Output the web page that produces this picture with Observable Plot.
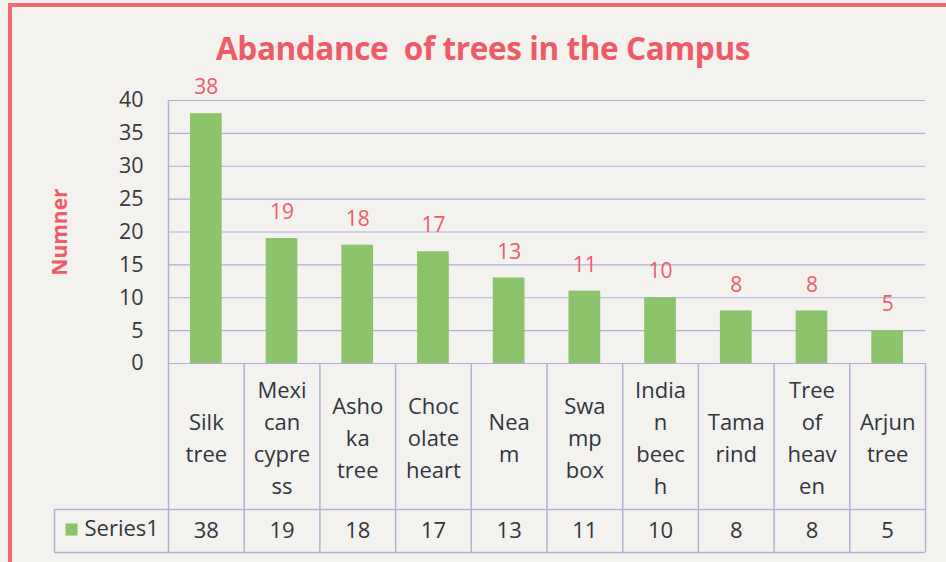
<!DOCTYPE html>
<html>
<head>
<meta charset="utf-8">
<script src="https://cdn.jsdelivr.net/npm/d3@7"></script>
<script src="https://cdn.jsdelivr.net/npm/@observablehq/plot@0.6"></script>
<style>
  html, body { margin: 0; padding: 0; background: #f3f2ef; }
  #wrap { position: relative; width: 946px; height: 562px; overflow: hidden; background: #f3f2ef; font-family: "Open Sans", sans-serif; }
  #frame { position: absolute; left: 8px; top: 3px; width: 1000px; height: 700px; border-left: 4px solid #f06a74; border-top: 4px solid #f06a74; pointer-events: none; }
  #title { height: 82px; box-sizing: border-box; padding-top: 30px; padding-left: 20px; text-align: center; font-size: 31.5px; line-height: 36px; font-weight: 700; color: #ef5a68; white-space: pre; letter-spacing: -0.4px; }
  svg { display: block; }
</style>
</head>
<body>
<div id="wrap">
  <div id="title">Abandance  of trees in the Campus</div>
  <div id="chart"></div>
  <div id="frame"></div>
</div>
<script>
const categories = ["Silk tree", "Mexican cypress", "Ashoka tree", "Chocolate heart", "Neam", "Swamp box", "Indian beech", "Tamarind", "Tree of heaven", "Arjun tree"];
const categoryLabels = ["Silk\ntree", "Mexi\ncan\ncypre\nss", "Asho\nka\ntree", "Choc\nolate\nheart", "Nea\nm", "Swa\nmp\nbox", "India\nn\nbeec\nh", "Tama\nrind", "Tree\nof\nheav\nen", "Arjun\ntree"];
const values = [38, 19, 18, 17, 13, 11, 10, 8, 8, 5];
const yTicks = [0, 5, 10, 15, 20, 25, 30, 35, 40];
const seriesName = "Series1";
const yLabel = "Numner";

const data = categories.map((c, i) => ({i, name: c, label: categoryLabels[i], value: values[i]}));
const boundaries = d3.range(categories.length + 1);

const green = "#8cc46c";
const red = "#ef5a68";
const grid = "#aeacd8";
const tableLine = "#b3b0d6";
const ink = "#30363c";

const plot = Plot.plot({
  width: 946,
  height: 480,
  marginTop: 18,
  marginBottom: 199,
  marginLeft: 168,
  marginRight: 21,
  style: {fontFamily: "Open Sans, sans-serif", background: "transparent", overflow: "visible"},
  x: {domain: [0, categories.length], axis: null},
  y: {domain: [0, 40], axis: null},
  marks: [
    // gridlines
    Plot.ruleY(yTicks, {y: d => d, stroke: grid, strokeWidth: 1.2}),
    // left axis line
    Plot.ruleX([0], {x: d => d, stroke: tableLine, strokeWidth: 1.5}),
    // bars
    Plot.rectY(data, {x1: d => d.i, x2: d => d.i + 1, y: "value", insetLeft: 22, insetRight: 22, fill: green}),
    // value labels
    Plot.text(data, {x: d => d.i + 0.5, y: "value", text: d => String(d.value), dy: -26, fill: red, fontSize: 21}),
    // y axis
    Plot.axisY({ticks: yTicks, tickSize: 0, tickPadding: 25, fontSize: 21.5, fill: "#383838", label: null}),
    // y label
    Plot.text([yLabel], {frameAnchor: "left", dx: -108, rotate: -90, textAnchor: "middle", lineAnchor: "middle", fill: red, fontSize: 21, fontWeight: "bold"}),
    // table: vertical lines
    Plot.ruleX(boundaries, {x: d => d, insetTop: 263, insetBottom: -189, stroke: tableLine, strokeWidth: 1.5}),
    Plot.ruleX([0], {x: d => d, dx: -114, insetTop: 409, insetBottom: -189, stroke: tableLine, strokeWidth: 1.5}),
    // table: horizontal lines
    Plot.ruleY([0], {y: d => d, dy: 146, insetLeft: -114, stroke: tableLine, strokeWidth: 1.5}),
    Plot.ruleY([0], {y: d => d, dy: 189, insetLeft: -114, stroke: tableLine, strokeWidth: 1.5}),
    // table: category labels
    Plot.text(data, {x: d => d.i + 0.5, text: "label", frameAnchor: "bottom", lineAnchor: "middle", dy: 72, fontSize: 22, lineHeight: 1.46, fill: ink}),
    // table: values row
    Plot.text(data, {x: d => d.i + 0.5, text: d => String(d.value), frameAnchor: "bottom", lineAnchor: "middle", dy: 167, fontSize: 22, fill: ink}),
    // legend key
    Plot.dot([seriesName], {frameAnchor: "bottom-left", dx: -97, dy: 166, symbol: "square", r: 6.8, fill: green, stroke: null}),
    Plot.text([seriesName], {frameAnchor: "bottom-left", dx: -84, dy: 165, textAnchor: "start", lineAnchor: "middle", fontSize: 22, fill: ink})
  ]
});
document.getElementById("chart").appendChild(plot);
</script>
</body>
</html>
